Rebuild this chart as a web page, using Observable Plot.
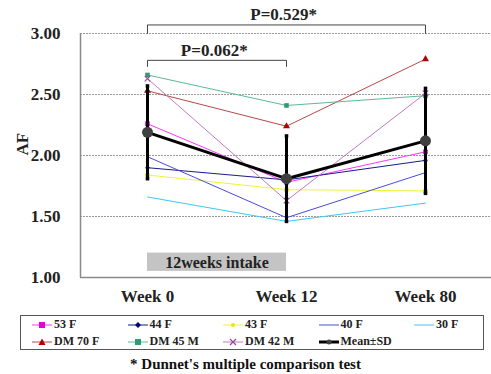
<!DOCTYPE html>
<html>
<head>
<meta charset="utf-8">
<script src="https://cdn.jsdelivr.net/npm/d3@7"></script>
<script src="https://cdn.jsdelivr.net/npm/@observablehq/plot@0.6"></script>
<style>
  body { margin: 0; background: #fff; font-family: "Liberation Serif", "Times New Roman", "DejaVu Serif", serif; }
  #wrap { position: relative; width: 491px; height: 374px; }
  #legend { position: absolute; left: 20px; top: 315px; width: 464px; height: 35px; border: 1px solid #555; box-sizing: border-box; font-weight: bold; font-size: 12px; color: #222; }
  .item { position: absolute; display: flex; align-items: center; height: 15px; }
  .item svg { margin-right: 2px; }
  #caption { position: absolute; left: 0; width: 491px; top: 356px; text-align: center; font-weight: bold; font-size: 15px; color: #111; }
  svg text { font-family: "Liberation Serif", "Times New Roman", "DejaVu Serif", serif !important; }
</style>
</head>
<body>
<div id="wrap"></div>
<script>
// ---- data ----
const weeks = ["Week 0", "Week 12", "Week 80"];
const yTicks = [1.00, 1.50, 2.00, 2.50, 3.00];
const gridLevels = [1.50, 2.00, 2.50, 3.00];

const seriesNames = ["53 F", "44 F", "43 F", "40 F", "30 F", "DM 70 F", "DM 45 M", "DM 42 M"];
const s53F  = [2.26, 1.78, 2.03];
const s44F  = [1.90, 1.80, 1.96];
const s43F  = [1.84, 1.72, 1.71];
const s40F  = [1.99, 1.49, 1.86];
const s30F  = [1.66, 1.46, 1.61];
const dm70F = [2.53, 2.24, 2.79];
const dm45M = [2.66, 2.41, 2.49];
const dm42M = [2.63, 1.63, 2.51];
const seriesValues = [s53F, s44F, s43F, s40F, s30F, dm70F, dm45M, dm42M];

const meanName = "Mean±SD";
const meanVals = [2.19, 1.81, 2.12];
const sdVals   = [0.38, 0.35, 0.43];

const comparisons = [
  {from: 0, to: 1, label: "P=0.062*"},
  {from: 0, to: 2, label: "P=0.529*"}
];
const bracketLevels = [2.78, 3.07];
const bracketFeet   = [2.73, 3.00];

const intakeLabel = "12weeks intake";
const caption = "* Dunnet's multiple comparison  test";

// ---- styles ----
const FONT = '"Liberation Serif", "Times New Roman", "DejaVu Serif", serif';
const lineColors   = ["#ff33ff", "#1a1a8c", "#f2f23a", "#4a4ae0", "#3cc8f0", "#b84848", "#5cb89c", "#c27ac2"];
const markerColors = ["#e000e0", "#000080", "#e8e800", "#4a4ae0", "#3cc8f0", "#b00000", "#2e9c6e", "#a040a0"];
const markerSymbols = ["square", "diamond", "circle", null, null, "triangle", "square", "times"];

const xDomain = [-0.482, 2.475];

const marks = [];
marks.push(Plot.ruleY(gridLevels, {stroke: "#9a9a9a", strokeDasharray: "2,1", strokeWidth: 1}));
marks.push(Plot.ruleY([yTicks[0]], {stroke: "#8a8a8a", strokeWidth: 1.5}));
marks.push(Plot.ruleX([xDomain[0]], {y1: yTicks[0], y2: yTicks[yTicks.length - 1], stroke: "#8a8a8a", strokeWidth: 1.5}));

marks.push(Plot.rect([{from: 0, to: 1}], {x1: "from", x2: "to", y1: 1.05, y2: 1.20, fill: "#c4c4c4"}));
marks.push(Plot.text([{from: 0, to: 1}], {x: d => (d.from + d.to) / 2, y: 1.12, text: () => intakeLabel, fontSize: 16, fontWeight: "bold", fill: "#222"}));

seriesNames.forEach((name, i) => {
  const rows = seriesValues[i].map((v, wi) => ({wi, v}));
  marks.push(Plot.line(rows, {x: "wi", y: "v", stroke: lineColors[i], strokeWidth: 1}));
  const sym = markerSymbols[i];
  if (sym === "times") {
    marks.push(Plot.dot(rows, {x: "wi", y: "v", symbol: sym, stroke: markerColors[i], strokeWidth: 1.2, r: 2.6}));
  } else if (sym) {
    marks.push(Plot.dot(rows, {x: "wi", y: "v", symbol: sym, fill: markerColors[i], r: sym === "diamond" ? 2.3 : 2.6}));
  }
});

const meanRows = meanVals.map((m, wi) => ({wi, m, sd: sdVals[wi]}));
marks.push(Plot.ruleX(meanRows, {x: "wi", y1: d => d.m - d.sd, y2: d => d.m + d.sd, stroke: "#000", strokeWidth: 3}));
marks.push(Plot.dot(meanRows, {x: "wi", y: d => d.m - d.sd, symbol: "square", fill: "#000", r: 2}));
marks.push(Plot.dot(meanRows, {x: "wi", y: d => d.m + d.sd, symbol: "square", fill: "#000", r: 2}));
marks.push(Plot.line(meanRows, {x: "wi", y: "m", stroke: "#000", strokeWidth: 3}));
marks.push(Plot.dot(meanRows, {x: "wi", y: "m", fill: "#404040", r: 5.5}));

const bracketPts = [];
comparisons.forEach((c, k) => {
  const top = bracketLevels[k], foot = bracketFeet[k];
  bracketPts.push({k, x: c.from, y: foot}, {k, x: c.from, y: top}, {k, x: c.to, y: top}, {k, x: c.to, y: foot});
});
marks.push(Plot.line(bracketPts, {x: "x", y: "y", z: "k", stroke: "#444", strokeWidth: 1}));
marks.push(Plot.text(comparisons, {x: d => (d.from + d.to) / 2 - 0.02, y: (d, k) => bracketLevels[k], text: "label", dy: -10, fontSize: 17, fontWeight: "bold", fill: "#222"}));

marks.push(Plot.text(["AF"], {frameAnchor: "left", dx: -58, rotate: -90, text: d => d, fontSize: 17, fontWeight: "bold", fill: "#222"}));

const chart = Plot.plot({
  width: 491,
  height: 308,
  marginLeft: 80,
  marginRight: 0,
  marginTop: 33,
  marginBottom: 31,
  style: {fontFamily: FONT, fontWeight: "bold", fontSize: "17px", color: "#222", background: "#fff", overflow: "visible"},
  x: {domain: xDomain, ticks: [0, 1, 2], tickFormat: i => weeks[i], tickSize: 0, tickPadding: 12, label: null},
  y: {domain: [yTicks[0], yTicks[yTicks.length - 1]], ticks: yTicks, tickFormat: d3.format(".2f"), tickSize: 0, tickPadding: 20, label: null},
  marks
});
const wrap = document.getElementById("wrap");
wrap.appendChild(chart);

const legend = document.createElement("div");
legend.id = "legend";
const legendItems = seriesNames.map((n, i) => ({name: n, line: lineColors[i], marker: markerColors[i], sym: markerSymbols[i], w: 1}));
legendItems.push({name: meanName, line: "#000", marker: "#404040", sym: "circle", w: 3});
function symbolSvg(it) {
  const W = 20, H = 10, cx = W / 2, cy = H / 2;
  let m = "";
  if (it.sym === "square") m = `<rect x="${cx - 3}" y="${cy - 3}" width="6" height="6" fill="${it.marker}"/>`;
  else if (it.sym === "diamond") m = `<path d="M${cx} ${cy - 3}L${cx + 3} ${cy}L${cx} ${cy + 3}L${cx - 3} ${cy}Z" fill="${it.marker}"/>`;
  else if (it.sym === "triangle") m = `<path d="M${cx} ${cy - 3.5}L${cx + 3.5} ${cy + 3}L${cx - 3.5} ${cy + 3}Z" fill="${it.marker}"/>`;
  else if (it.sym === "times") m = `<path d="M${cx - 3} ${cy - 3}L${cx + 3} ${cy + 3}M${cx + 3} ${cy - 3}L${cx - 3} ${cy + 3}" stroke="${it.marker}" stroke-width="1.2"/>`;
  else if (it.sym === "circle") m = `<circle cx="${cx}" cy="${cy}" r="${it.w > 1 ? 2.5 : 2}" fill="${it.marker}"/>`;
  return `<svg width="${W}" height="${H}"><line x1="0" y1="${cy}" x2="${W}" y2="${cy}" stroke="${it.line}" stroke-width="${it.w}"/>${m}</svg>`;
}
legendItems.forEach((it, i) => {
  const row = Math.floor(i / 5), col = i % 5;
  const d = document.createElement("div");
  d.className = "item";
  d.style.left = (11 + col * 95.5) + "px";
  d.style.top = (1 + row * 17) + "px";
  d.innerHTML = symbolSvg(it) + `<span>${it.name}</span>`;
  legend.appendChild(d);
});
wrap.appendChild(legend);

const cap = document.createElement("div");
cap.id = "caption";
cap.textContent = caption;
wrap.appendChild(cap);
</script>
</body>
</html>
